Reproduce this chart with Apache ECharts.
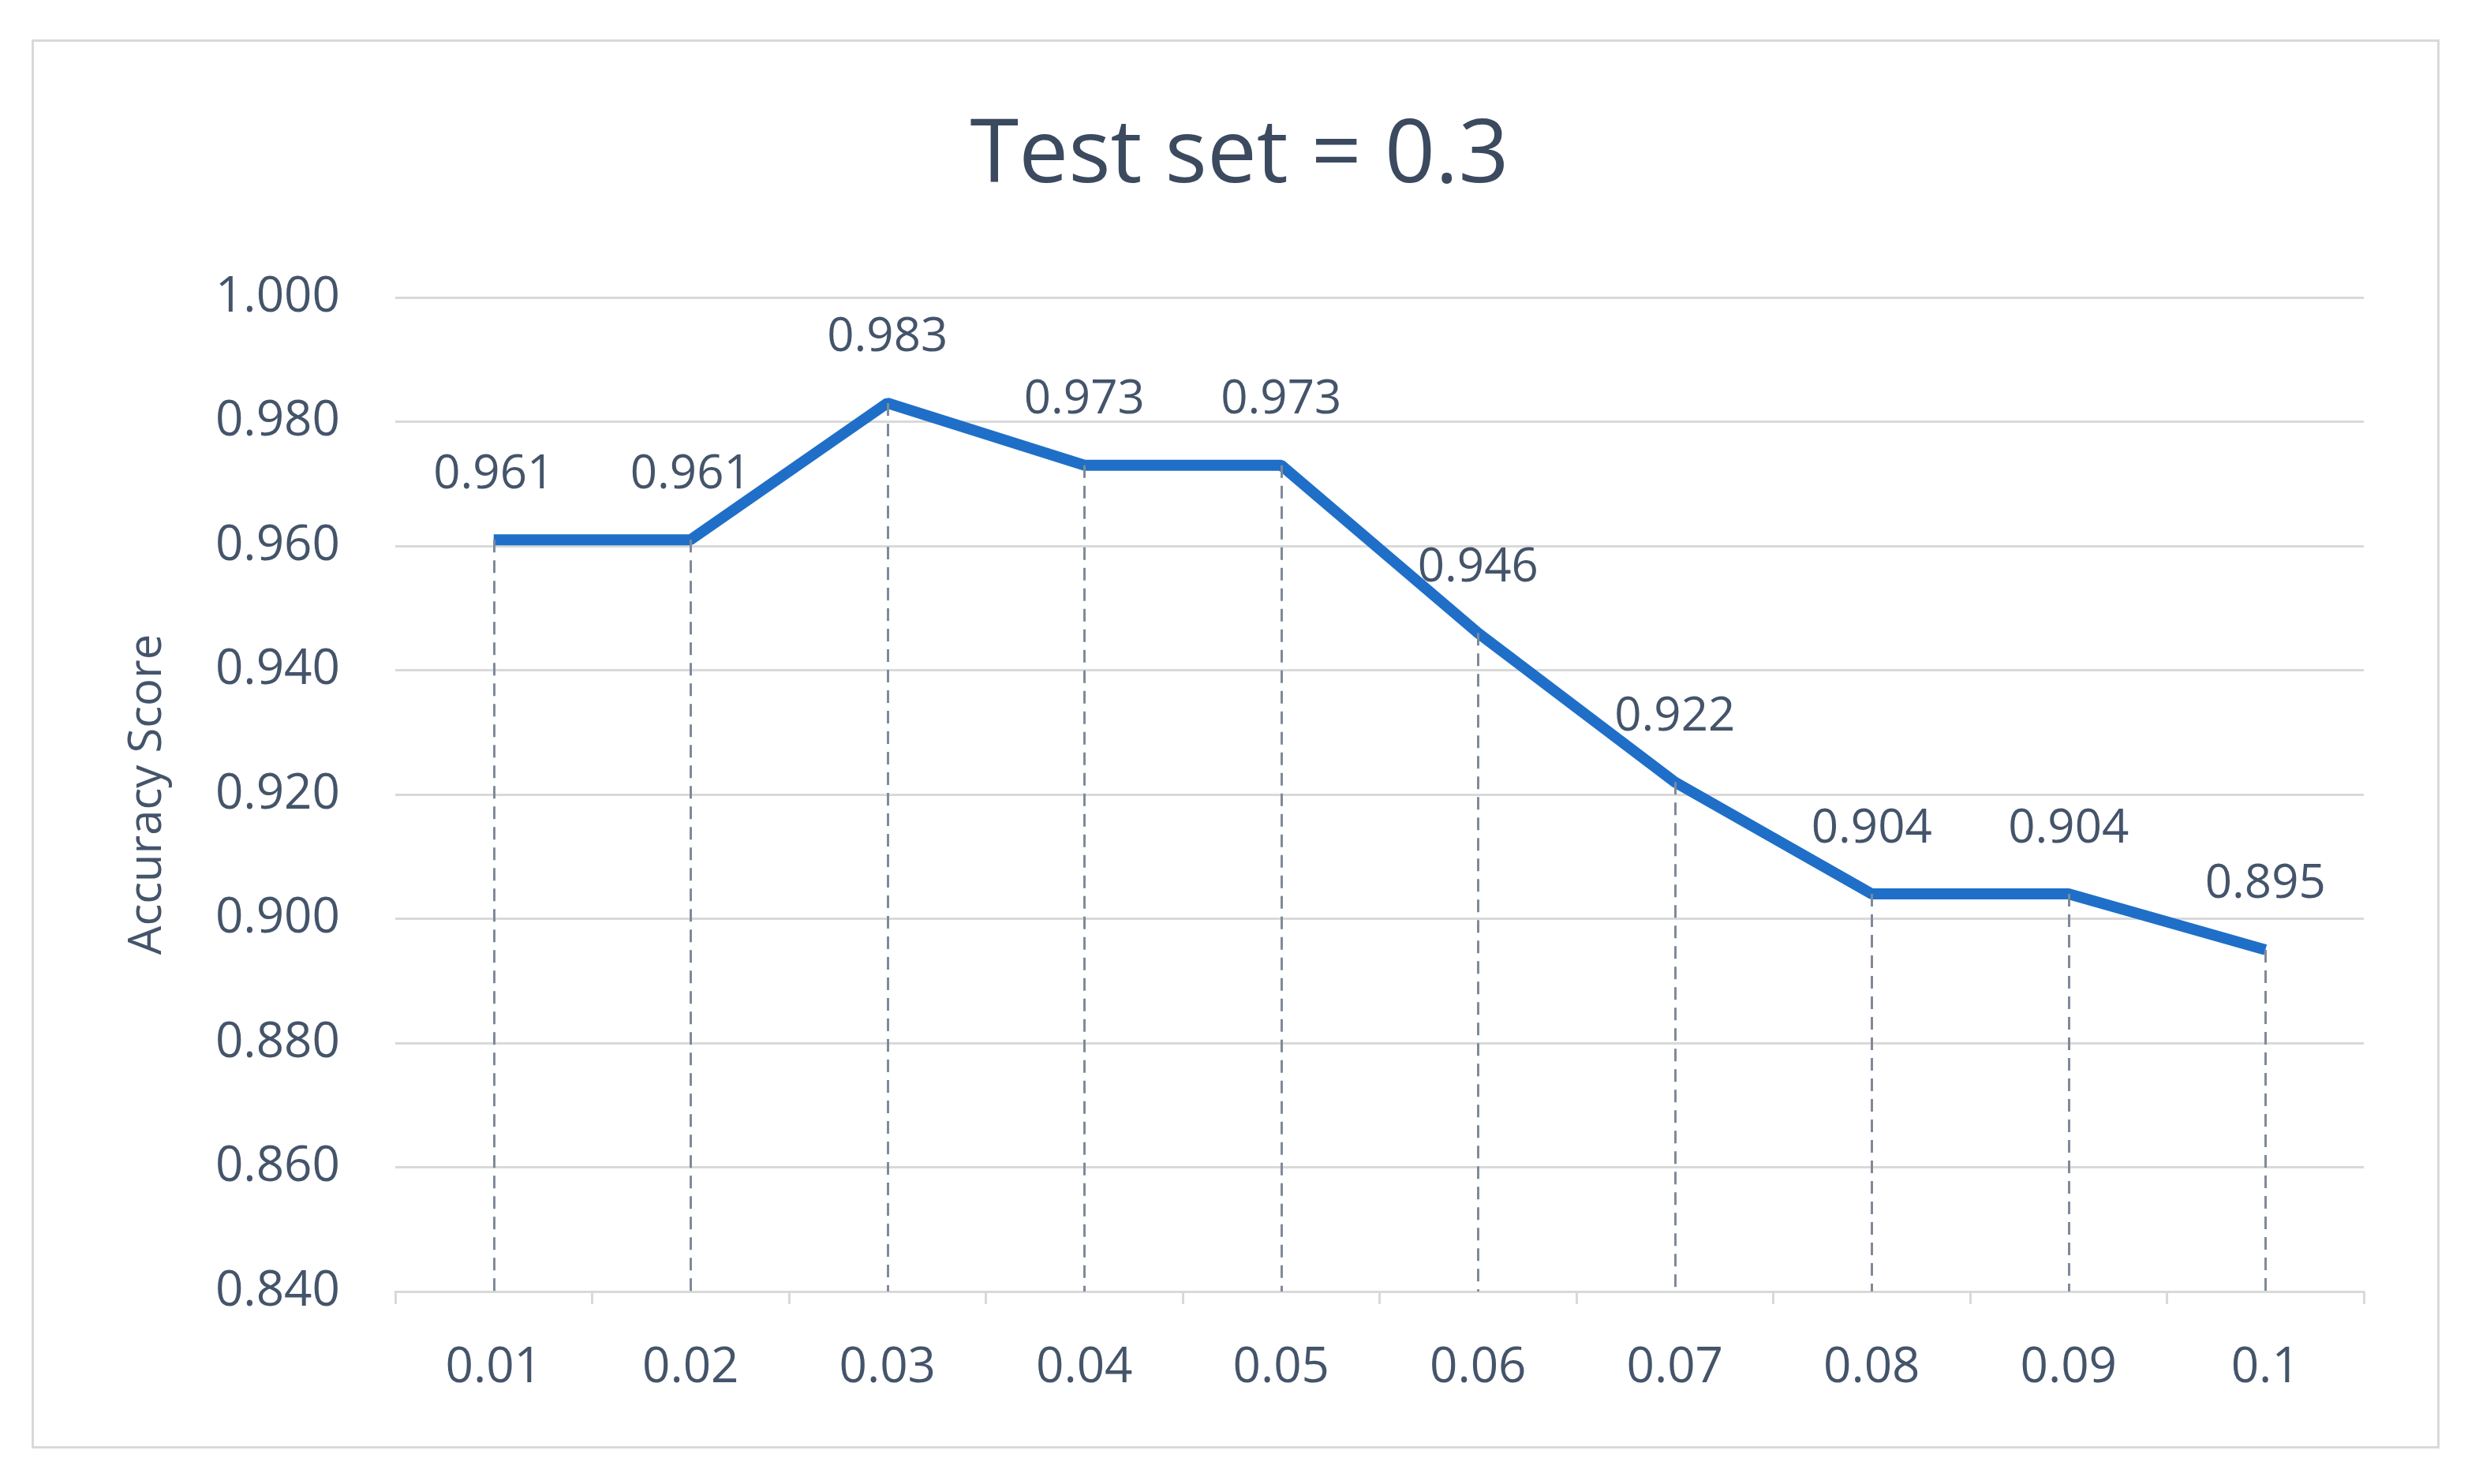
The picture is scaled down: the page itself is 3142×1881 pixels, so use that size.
<!DOCTYPE html>
<html>
<head>
<meta charset="utf-8">
<script src="https://cdn.jsdelivr.net/npm/echarts@6/dist/echarts.min.js"></script>
<style>
  html, body {margin:0; padding:0; background:#fff;}
  #frame {position:absolute; left:40px; top:50px; width:3046px; height:1780px; border:3px solid #d9d9d9;}
  #chart {position:absolute; left:0; top:0; width:3142px; height:1881px;}
</style>
</head>
<body>
<div id="frame"></div>
<div id="chart"></div>
<script>
const categories = ["0.01", "0.02", "0.03", "0.04", "0.05", "0.06", "0.07", "0.08", "0.09", "0.1"];
const accuracy = [0.961, 0.961, 0.983, 0.973, 0.973, 0.946, 0.922, 0.904, 0.904, 0.895];
const textColor = "#44546a";
const lineColor = "#1f6fc8";

// dashed drop lines from each point down to the axis
let dropLines = accuracy.map((v, i) => [{coord: [i, v]}, {coord: [i, 0.84]}]);

let chart = echarts.init(document.getElementById("chart"));
chart.setOption({
    backgroundColor: "transparent",
    textStyle: {fontFamily: "Open Sans"},
    title: {
        text: "Test set = 0.3",
        left: "center",
        top: 138,
        textStyle: {fontSize: 112, fontWeight: "normal", color: "#3b4a5e", fontFamily: "Open Sans"}
    },
    grid: {left: 501, right: 146, top: 377, bottom: 244},
    xAxis: {
        type: "category",
        data: categories,
        boundaryGap: true,
        axisLine: {lineStyle: {color: "#d9d9d9", width: 3}},
        axisTick: {show: true, length: 16, lineStyle: {color: "#d9d9d9", width: 3}},
        axisLabel: {fontSize: 62, color: textColor, margin: 66}
    },
    yAxis: {
        type: "value",
        min: 0.84,
        max: 1.0,
        interval: 0.02,
        name: "Accuracy Score",
        nameLocation: "middle",
        nameGap: 285,
        nameTextStyle: {fontSize: 58, color: textColor},
        axisLine: {show: false},
        axisTick: {show: false},
        axisLabel: {fontSize: 62, color: textColor, margin: 70, formatter: v => v.toFixed(3)},
        splitLine: {lineStyle: {color: "#d9d9d9", width: 3}}
    },
    series: [{
        type: "line",
        data: accuracy,
        symbol: "circle",
        symbolSize: 1,
        showSymbol: true,
        itemStyle: {color: lineColor},
        lineStyle: {color: lineColor, width: 14},
        label: {
            show: true,
            position: "top",
            distance: 52,
            fontSize: 60,
            color: textColor,
            formatter: p => p.value.toFixed(3)
        },
        markLine: {
            silent: true,
            symbol: "none",
            label: {show: false},
            lineStyle: {type: [16, 10], color: "#7f8a99", width: 3},
            data: dropLines
        },
        z: 3
    }]
});
</script>
</body>
</html>
